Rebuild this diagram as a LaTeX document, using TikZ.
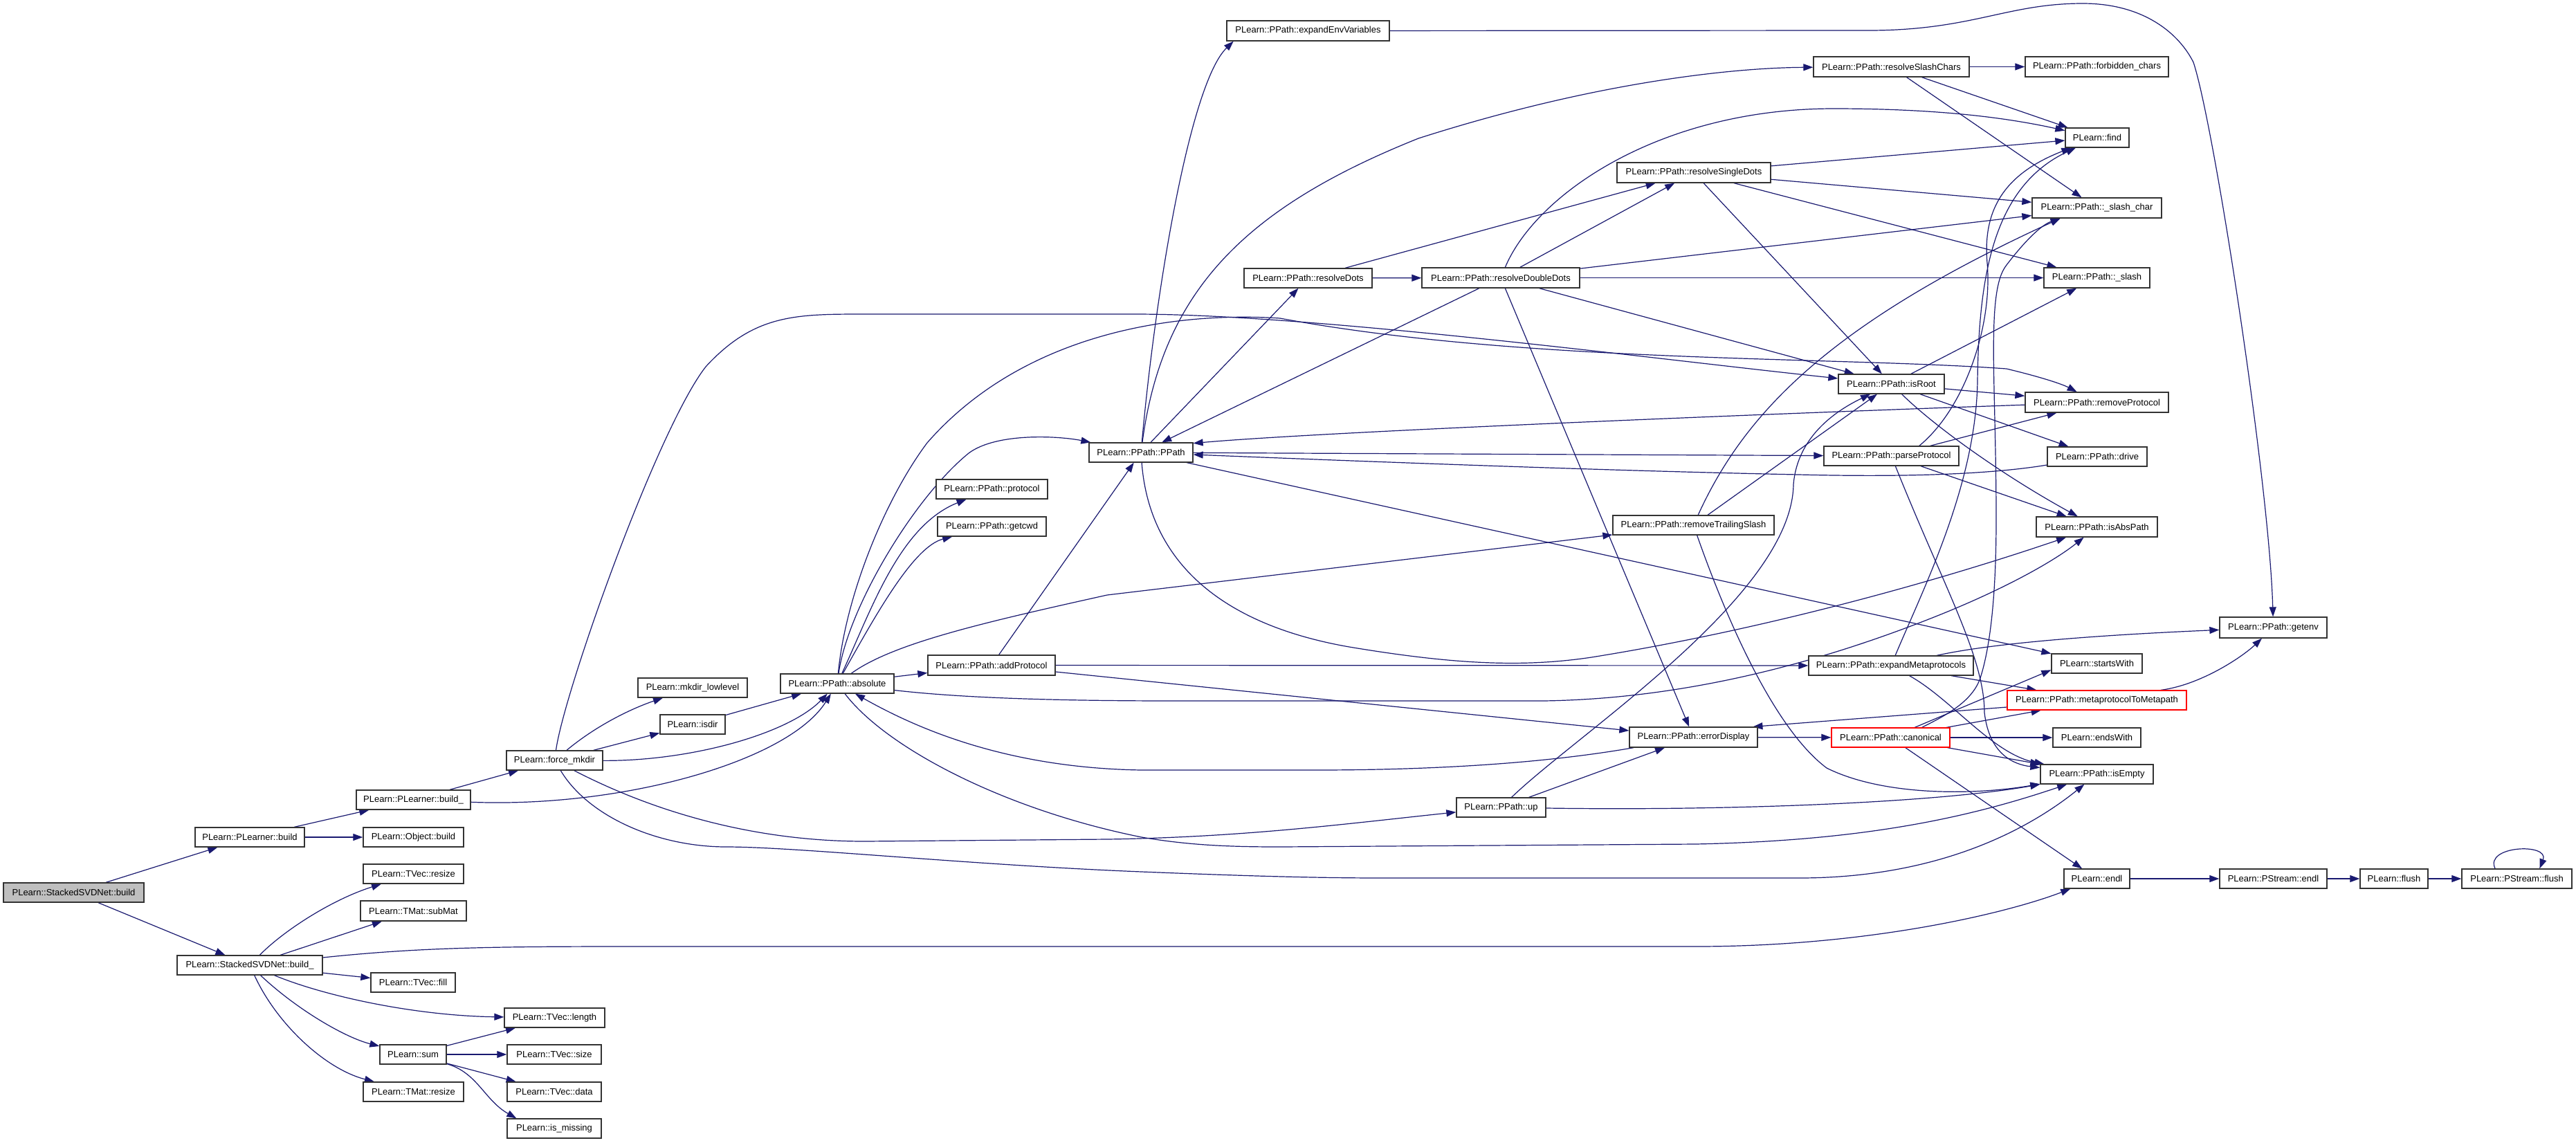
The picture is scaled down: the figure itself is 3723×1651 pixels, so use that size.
\documentclass[tikz,border=0pt]{standalone}
\usepackage{fontspec}
\setmainfont{Liberation Sans}
\usetikzlibrary{arrows.meta}
\definecolor{edgecol}{HTML}{191970}
\definecolor{rootfill}{HTML}{BFBFBF}
\definecolor{nodeline}{HTML}{333333}
\pgfdeclarelayer{back}
\pgfdeclarelayer{edges}
\pgfsetlayers{back,edges,main}
\newcommand\mknode[7][]{\node[nb,#1,minimum width={(#5-#3)*0.5pt},minimum height={(#6-#4)*0.5pt}] (#2) at ({(#3+#5)/2},{(#4+#6)/2}) {#7};}
\begin{document}
\begin{tikzpicture}[x=0.5pt,y=-0.5pt,
  nb/.style={draw=nodeline,line width=0.65pt,fill=white,inner sep=0pt,text=black,font=\fontsize{6.5}{7.5}\selectfont},
  ed/.style={draw=edgecol,line width=0.6pt,-{Triangle[length=7pt,width=5pt]}}]
\useasboundingbox (0,0) rectangle (3723,1651);
\begin{pgfonlayer}{back}
\fill[white] (0,0) rectangle (3723,1651);
\end{pgfonlayer}
% nodes
\mknode[fill=rootfill]{nA}{5}{1276}{208}{1304}{PLearn::StackedSVDNet::build}
\mknode{nB}{282}{1196}{440}{1224}{PLearn::PLearner::build}
\mknode{nC}{256}{1381}{466}{1409}{PLearn::StackedSVDNet::build\_}
\mknode{nD}{515}{1142}{680}{1170}{PLearn::PLearner::build\_}
\mknode{nE}{525}{1196}{670}{1224}{PLearn::Object::build}
\mknode{ntvresize}{525}{1249}{670}{1277}{PLearn::TVec::resize}
\mknode{ntmsubmat}{521}{1302}{674}{1331}{PLearn::TMat::subMat}
\mknode{ntvfill}{536}{1406}{658}{1434}{PLearn::TVec::fill}
\mknode{ntvlength}{729}{1457}{874}{1485}{PLearn::TVec::length}
\mknode{nsum}{549}{1510}{645}{1538}{PLearn::sum}
\mknode{ntvsize}{733}{1510}{869}{1538}{PLearn::TVec::size}
\mknode{ntmresize}{525}{1564}{670}{1592}{PLearn::TMat::resize}
\mknode{ntvdata}{733}{1564}{869}{1592}{PLearn::TVec::data}
\mknode{nismissing}{733}{1617}{869}{1645}{PLearn::is\_missing}
\mknode{nF}{732}{1085}{871}{1113}{PLearn::force\_mkdir}
\mknode{nG}{922}{980}{1080}{1008}{PLearn::mkdir\_lowlevel}
\mknode{nH}{954}{1033}{1048}{1061}{PLearn::isdir}
\mknode{nI}{1128}{974}{1292}{1002}{PLearn::PPath::absolute}
\mknode{nJ}{1353}{693}{1514}{721}{PLearn::PPath::protocol}
\mknode{nK}{1355}{747}{1512}{775}{PLearn::PPath::getcwd}
\mknode{nL}{1341}{947}{1525}{976}{PLearn::PPath::addProtocol}
\mknode{nM}{1574}{640}{1724}{668}{PLearn::PPath::PPath}
\mknode{nN}{1773}{30}{2008}{59}{PLearn::PPath::expandEnvVariables}
\mknode{nO}{1798}{388}{1983}{416}{PLearn::PPath::resolveDots}
\mknode{nP}{2055}{387}{2283}{416}{PLearn::PPath::resolveDoubleDots}
\mknode{nQ}{2337}{235}{2559}{264}{PLearn::PPath::resolveSingleDots}
\mknode{nR}{2621}{82}{2846}{111}{PLearn::PPath::resolveSlashChars}
\mknode{nS}{2331}{745}{2564}{773}{PLearn::PPath::removeTrailingSlash}
\mknode{nT}{2355}{1051}{2540}{1080}{PLearn::PPath::errorDisplay}
\mknode{nU}{2105}{1153}{2234}{1181}{PLearn::PPath::up}
\mknode{nV}{2657}{541}{2810}{569}{PLearn::PPath::isRoot}
\mknode{nW}{2636}{645}{2831}{673}{PLearn::PPath::parseProtocol}
\mknode{nX}{2614}{948}{2852}{976}{PLearn::PPath::expandMetaprotocols}
\mknode[draw=red]{nY}{2647}{1052}{2818}{1080}{PLearn::PPath::canonical}
\mknode{nZ}{2927}{82}{3134}{111}{PLearn::PPath::forbidden\_chars}
\mknode{nfind}{2985}{185}{3077}{213}{PLearn::find}
\mknode{nSC}{2937}{286}{3124}{315}{PLearn::PPath::\_slash\_char}
\mknode{nslash}{2954}{387}{3107}{416}{PLearn::PPath::\_slash}
\mknode{nrprot}{2927}{567}{3134}{596}{PLearn::PPath::removeProtocol}
\mknode{ndrive}{2959}{646}{3103}{674}{PLearn::PPath::drive}
\mknode{nisabs}{2943}{747}{3118}{776}{PLearn::PPath::isAbsPath}
\mknode{ngetenv}{3208}{892}{3363}{922}{PLearn::PPath::getenv}
\mknode{nsw}{2965}{945}{3096}{973}{PLearn::startsWith}
\mknode[draw=red]{nmtm}{2901}{998}{3160}{1026}{PLearn::PPath::metaprotocolToMetapath}
\mknode{nends}{2967}{1052}{3094}{1080}{PLearn::endsWith}
\mknode{nempty}{2949}{1105}{3112}{1133}{PLearn::PPath::isEmpty}
\mknode{nendl}{2983}{1256}{3078}{1284}{PLearn::endl}
\mknode{npsendl}{3208}{1256}{3363}{1284}{PLearn::PStream::endl}
\mknode{nflush}{3411}{1256}{3509}{1284}{PLearn::flush}
\mknode{npsflush}{3558}{1256}{3717}{1284}{PLearn::PStream::flush}
% edges
\begin{pgfonlayer}{edges}
\draw[ed] (nA) -- (nB);
\draw[ed] (nA) -- (nC);
\draw[ed] (nB) -- (nD);
\draw[ed] (nB) -- (nE);
\draw[ed] (nD) -- (nF);
\draw[ed] (nD) .. controls (900,1168) and (1140,1100) .. (nI);
\draw[ed] (nF) .. controls (860,1050) and (910,1025) .. (nG);
\draw[ed] (nF) -- (nH);
\draw[ed] (nF) .. controls (1000,1100) and (1140,1060) .. (nI);
\draw[ed] (nH) -- (nI);
\draw[ed] (nF) .. controls (815,1000) and (950,620) .. (1020,530) .. controls (1090,454) and (1150,454) .. (1250,454) -- (1640,454) .. controls (1900,454) and (2400,520) .. (nV);
\draw[ed] (nF) .. controls (900,1150) and (1050,1216) .. (1250,1216) -- (1600,1213) .. controls (1800,1210) and (1950,1190) .. (nU);
\draw[ed] (nF) .. controls (850,1180) and (950,1224) .. (1050,1224) .. controls (1150,1224) and (1400,1250) .. (1650,1260) .. controls (1800,1266) and (1900,1269) .. (2000,1269) -- (2600,1269) .. controls (2800,1269) and (2930,1200) .. (nempty);
% absolute
\draw[ed] (nI) .. controls (1260,880) and (1300,760) .. (nJ);
\draw[ed] (nI) .. controls (1265,890) and (1320,790) .. (nK);
\draw[ed] (nI) -- (nL);
\draw[ed] (nI) .. controls (1225,880) and (1320,720) .. (1400,655) .. controls (1440,625) and (1530,630) .. (nM);
\draw[ed] (nI) .. controls (1222,860) and (1280,720) .. (1340,640) .. controls (1480,480) and (1700,450) .. (1850,460) .. controls (2200,525) and (2650,515) .. (2900,533) .. controls (2950,545) and (2980,555) .. (nrprot);
\draw[ed] (nI) .. controls (1290,930) and (1420,900) .. (1600,860) -- (nS);
\draw[ed] (nI) .. controls (1400,1010) and (1550,1013) .. (1700,1013) -- (2230,1013) .. controls (2450,1010) and (2650,950) .. (2800,890) .. controls (2900,850) and (2970,810) .. (nisabs);
\draw[ed] (nI) .. controls (1280,1080) and (1450,1170) .. (1650,1210) .. controls (1720,1222) and (1780,1224) .. (1850,1224) -- (2450,1220) .. controls (2700,1215) and (2850,1180) .. (nempty);
% addProtocol
\draw[ed] (nL) -- (nM);
\draw[ed] (nL) -- (nX);
\draw[ed] (nL) -- (nT);
% PPath
\draw[ed] (nM) .. controls (1670,420) and (1720,120) .. (nN.188);
\draw[ed] (nM) -- (nO);
\draw[ed] (nM) .. controls (1680,420) and (1800,300) .. (2050,200) .. controls (2300,120) and (2500,98) .. (nR);
\draw[ed] (nM) -- (nW);
\draw[ed] (nM) -- (nsw);
\draw[ed] (nM) .. controls (1660,800) and (1750,900) .. (1950,935) .. controls (2100,960) and (2200,965) .. (2300,950) .. controls (2550,910) and (2800,840) .. (nisabs);
% expandEnvVariables
\draw[ed] (nN) -- (2700,44) .. controls (2850,44) and (2900,5) .. (3010,5) .. controls (3100,5) and (3150,50) .. (3170,90) .. controls (3200,180) and (3280,700) .. (ngetenv);
% resolveDots
\draw[ed] (nO) -- (nP);
\draw[ed] (nO) -- (nQ);
% resolveDoubleDots
\draw[ed] (nP) -- (nQ);
\draw[ed] (nP) .. controls (2220,280) and (2400,157) .. (2650,157) .. controls (2800,157) and (2900,170) .. (nfind);
\draw[ed] (nP) -- (nSC);
\draw[ed] (nP) -- (nslash);
\draw[ed] (nP) -- (nV);
\draw[ed] (nP) -- (nT);
\draw[ed] (nP) -- (nM);
% resolveSingleDots
\draw[ed] (nQ) -- (nfind);
\draw[ed] (nQ) -- (nSC);
\draw[ed] (nQ) -- (nslash);
\draw[ed] (nQ) -- (nV);
% resolveSlashChars
\draw[ed] (nR) -- (nZ);
\draw[ed] (nR) -- (nfind);
\draw[ed] (nR) -- (nSC);
% removeTrailingSlash
\draw[ed] (nS) -- (nV);
\draw[ed] (nS) .. controls (2520,600) and (2640,470) .. (nSC.196);
\draw[ed] (nS) .. controls (2490,880) and (2560,1050) .. (2640,1110) .. controls (2720,1150) and (2850,1150) .. (nempty);
% errorDisplay
\draw[ed] (nT) -- (nY);
\draw[ed] (nT) .. controls (2250,1100) and (2100,1113) .. (1900,1113) -- (1650,1113) .. controls (1450,1110) and (1320,1050) .. (nI);
% up
\draw[ed] (nU) .. controls (2280,1060) and (2590,860) .. (2592,700) .. controls (2597,640) and (2640,600) .. (nV);
\draw[ed] (nU) -- (nT);
\draw[ed] (nU) .. controls (2500,1172) and (2800,1160) .. (nempty);
% isRoot
\draw[ed] (nV) -- (nrprot);
\draw[ed] (nV) -- (ndrive);
\draw[ed] (nV) .. controls (2800,620) and (2900,690) .. (nisabs);
\draw[ed] (nV) -- (nslash);
% parseProtocol
\draw[ed] (nW) -- (nrprot);
\draw[ed] (nW) -- (nisabs);
\draw[ed] (nW) .. controls (2810,850) and (2868,950) .. (2868,1030) .. controls (2875,1090) and (2910,1105) .. (nempty);
\draw[ed] (nW.20) .. controls (2840,590) and (2880,470) .. (2872,380) .. controls (2865,300) and (2900,250) .. (nfind);
% expandMetaprotocols
\draw[ed] (nX) .. controls (2900,925) and (3100,915) .. (ngetenv);
\draw[ed] (nX) -- (nmtm);
\draw[ed] (nX) .. controls (2820,1010) and (2880,1090) .. (nempty);
\draw[ed] (nX) .. controls (2780,850) and (2856,700) .. (2858,550) .. controls (2860,400) and (2880,270) .. (nfind);
% canonical
\draw[ed] (nY) -- (nsw.188);
\draw[ed] (nY) -- (nmtm);
\draw[ed] (nY) -- (nends);
\draw[ed] (nY) -- (nempty);
\draw[ed] (nY) -- (nendl);
\draw[ed] (nY.18) .. controls (2810,1035) and (2850,1015) .. (2862,980) .. controls (2878,930) and (2885,850) .. (2885,750) .. controls (2885,550) and (2870,420) .. (2900,383) .. controls (2925,350) and (2950,325) .. (nSC.196);
% metaprotocolToMetapath
\draw[ed] (nmtm.9) .. controls (3180,990) and (3240,950) .. (ngetenv);
\draw[ed] (nmtm) -- (nT.10);
% back to PPath
\draw[ed] (nrprot) .. controls (2500,600) and (1900,625) .. (nM.10);
\draw[ed] (ndrive) .. controls (2880,685) and (2760,690) .. (2600,686) .. controls (2300,680) and (1900,664) .. (nM);
% StackedSVDNet::build_
\draw[ed] (nC) .. controls (410,1345) and (480,1300) .. (ntvresize);
\draw[ed] (nC) -- (ntmsubmat);
\draw[ed] (nC) .. controls (600,1370) and (700,1368) .. (900,1368) -- (2450,1368) .. controls (2700,1368) and (2900,1320) .. (nendl);
\draw[ed] (nC) -- (ntvfill);
\draw[ed] (nC) .. controls (470,1440) and (600,1468) .. (ntvlength);
\draw[ed] (nC) .. controls (430,1460) and (500,1500) .. (nsum);
\draw[ed] (nC) .. controls (400,1480) and (470,1545) .. (ntmresize);
% sum
\draw[ed] (nsum) -- (ntvlength);
\draw[ed] (nsum) -- (ntvsize);
\draw[ed] (nsum) -- (ntvdata);
\draw[ed] (nsum) .. controls (690,1550) and (700,1590) .. (nismissing.165);
% endl chain
\draw[ed] (nendl) -- (npsendl);
\draw[ed] (npsendl) -- (nflush);
\draw[ed] (nflush) -- (npsflush);
\draw[ed] (npsflush.155) .. controls (3590,1222) and (3685,1218) .. (npsflush.24);
\end{pgfonlayer}
\end{tikzpicture}
\end{document}
